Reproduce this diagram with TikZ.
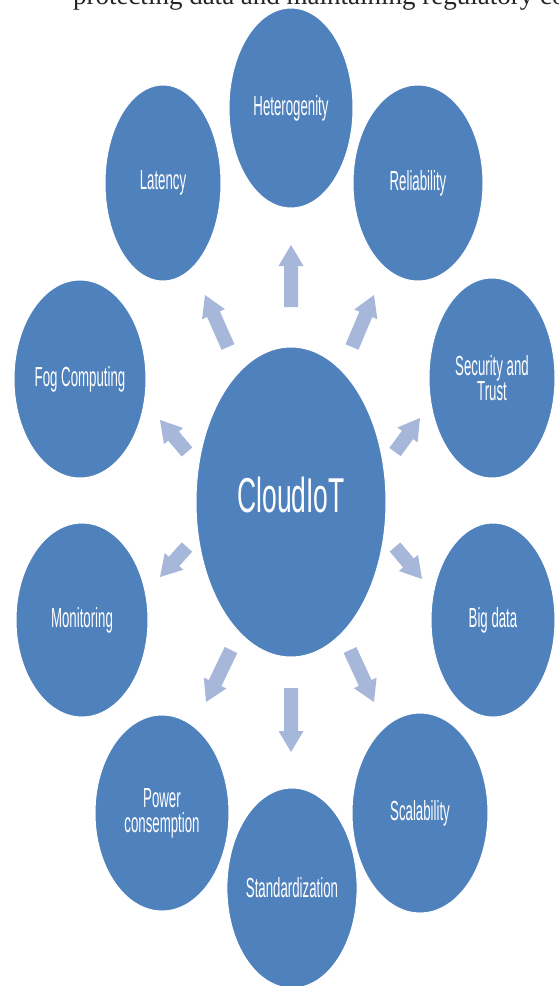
\documentclass[tikz,border=0pt]{standalone}
\usepackage{fontspec}
\setmainfont{Liberation Serif}
\newfontfamily\labelfont[FakeStretch=0.48]{Liberation Sans}
\newfontfamily\hubfont[FakeStretch=0.54]{Liberation Sans}
\usetikzlibrary{shapes.geometric,calc}
\definecolor{bubblefill}{HTML}{4F81BD}
\definecolor{pointerfill}{HTML}{A6B7DA}
\tikzset{
  bubble/.style={ellipse, fill=bubblefill, draw=white, line width=0.5pt,
    inner sep=0pt, text=white, align=center,
    font=\labelfont\fontsize{13.8}{12.5}\selectfont},
  hub/.style={bubble, font=\hubfont\fontsize{24.5}{24.5}\selectfont},
  pointer/.style={fill=pointerfill}
}
% block arrow from a tail coordinate to a tip coordinate
\newcommand\blockarrow[2]{%
  \coordinate (hb) at ($(#2)!10.5pt!(#1)$);
  \fill[pointer]
    ($(#1)!3.5pt!90:(#2)$) -- ($(hb)!3.5pt!90:(#2)$) --
    ($(hb)!6.25pt!90:(#2)$) -- (#2) --
    ($(hb)!6.25pt!-90:(#2)$) -- ($(hb)!3.5pt!-90:(#2)$) --
    ($(#1)!3.5pt!-90:(#2)$) -- cycle;}
\begin{document}
\begin{tikzpicture}[x=0.5pt,y=-0.5pt]
\useasboundingbox (0,0) rectangle (558,986);
\fill[white] (0,0) rectangle (558,986);
\begin{scope}
\clip (0,0) rectangle (558,986);

% running text line of the page above the figure
\node[anchor=base east, inner sep=0pt, text=black!85,
  font=\fontsize{13.5}{13.5}\selectfont] (runtext) at (566,4)
  {protecting data and maintaining regulatory co};

% outer topics
\node[bubble, minimum width=62pt, minimum height=100pt] (het) at (291,108) {Heterogenity};
\node[bubble, minimum width=58pt, minimum height=98pt]  (lat) at (163,183) {Latency};
\node[bubble, minimum width=65pt, minimum height=98pt]  (rel) at (418,183) {Reliability};
\node[bubble, minimum width=66pt, minimum height=99pt]  (fog) at (80,379)  {Fog Computing};
\node[bubble, minimum width=63pt, minimum height=100pt] (sec) at (492,378) {Security and\\Trust};
\node[bubble, minimum width=66pt, minimum height=97pt]  (mon) at (82,620)  {Monitoring};
\node[bubble, minimum width=62pt, minimum height=97pt]  (big) at (493,620) {Big data};
\node[bubble, minimum width=67pt, minimum height=98pt]  (pow) at (162,813) {Power\\consemption};
\node[bubble, minimum width=68pt, minimum height=100pt] (sca) at (420,813) {Scalability};
\node[bubble, minimum width=65pt, minimum height=100pt] (std) at (292,888) {Standardization};

% central topic
\node[bubble, minimum width=95pt, minimum height=155pt,
  label={[hub, fill=none, draw=none, yshift=3.5pt]center:CloudIoT}] (cloud) at (291,502) {};

% arrow end points
\coordinate (aHt) at (291,307); \coordinate (aHh) at (291,245);
\coordinate (aLt) at (228,347); \coordinate (aLh) at (205,295);
\coordinate (aRt) at (352,347); \coordinate (aRh) at (374,295);
\coordinate (aFt) at (187,452); \coordinate (aFh) at (160,420);
\coordinate (aSt) at (395,452); \coordinate (aSh) at (420,418);
\coordinate (aMt) at (187,547); \coordinate (aMh) at (160,577);
\coordinate (aBt) at (395,547); \coordinate (aBh) at (422,579);
\coordinate (aPt) at (231,650); \coordinate (aPh) at (206,702);
\coordinate (aCt) at (350,650); \coordinate (aCh) at (374,702);
\coordinate (aDt) at (291,688); \coordinate (aDh) at (291,752);

\blockarrow{aHt}{aHh}
\blockarrow{aLt}{aLh}
\blockarrow{aRt}{aRh}
\blockarrow{aFt}{aFh}
\blockarrow{aSt}{aSh}
\blockarrow{aMt}{aMh}
\blockarrow{aBt}{aBh}
\blockarrow{aPt}{aPh}
\blockarrow{aCt}{aCh}
\blockarrow{aDt}{aDh}
\end{scope}
\end{tikzpicture}
\end{document}
